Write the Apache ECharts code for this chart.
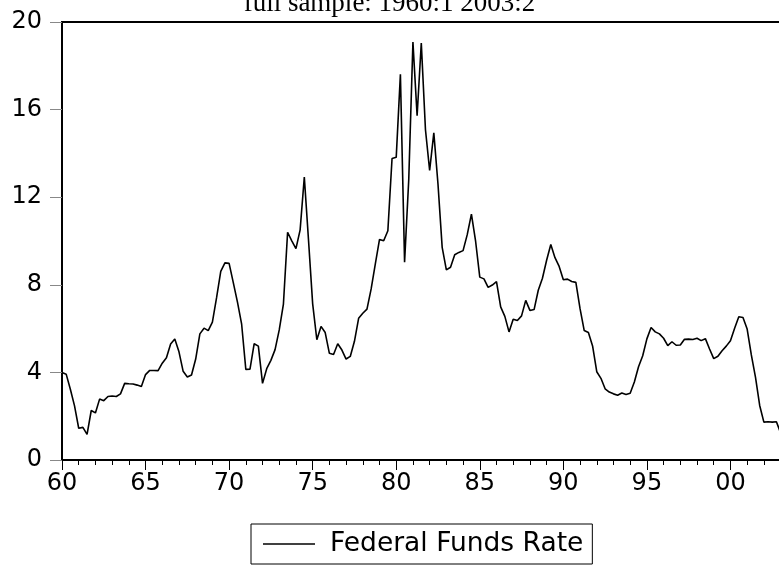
<!DOCTYPE html>
<html>
<head>
<meta charset="utf-8">
<script src="https://cdn.jsdelivr.net/npm/echarts@6/dist/echarts.min.js"></script>
<style>
  html, body { margin: 0; padding: 0; background: #fff; }
  #chart { width: 779px; height: 567px; }
</style>
</head>
<body>
<div id="chart"></div>
<script>
// Federal funds rate, quarterly, 1960:1 - 2003:2
const startYear = 1960;
const quartersPerYear = 4;
const fedFundsRate = [
  3.99, 3.92, 3.23, 2.47,   // 1960
  1.45, 1.49, 1.17, 2.26,   // 1961
  2.15, 2.78, 2.71, 2.90,   // 1962
  2.92, 2.90, 3.02, 3.50,   // 1963
  3.48, 3.47, 3.42, 3.36,   // 1964
  3.90, 4.09, 4.09, 4.08,   // 1965
  4.42, 4.67, 5.30, 5.53,   // 1966
  4.94, 4.05, 3.79, 3.88,   // 1967
  4.61, 5.76, 6.02, 5.91,   // 1968
  6.30, 7.41, 8.61, 9.00,   // 1969
  8.98, 8.10, 7.21, 6.20,   // 1970
  4.14, 4.15, 5.31, 5.20,   // 1971
  3.50, 4.17, 4.55, 5.04,   // 1972
  5.94, 7.12, 10.40, 10.01, // 1973
  9.65, 10.51, 12.92, 10.06,// 1974
  7.13, 5.49, 6.10, 5.82,   // 1975
  4.87, 4.82, 5.31, 5.02,   // 1976
  4.61, 4.73, 5.42, 6.47,   // 1977
  6.70, 6.89, 7.81, 8.96,   // 1978
  10.07, 10.01, 10.47, 13.77, // 1979
  13.82, 17.61, 9.03, 12.81,  // 1980
  19.08, 15.72, 19.04, 15.08, // 1981
  13.22, 14.94, 12.59, 9.71,  // 1982
  8.68, 8.80, 9.37, 9.48,   // 1983
  9.56, 10.29, 11.23, 9.99, // 1984
  8.35, 8.27, 7.88, 7.99,   // 1985
  8.14, 6.99, 6.56, 5.85,   // 1986
  6.43, 6.37, 6.58, 7.29,   // 1987
  6.83, 6.87, 7.75, 8.30,   // 1988
  9.12, 9.84, 9.24, 8.84,   // 1989
  8.23, 8.26, 8.15, 8.11,   // 1990
  6.91, 5.91, 5.82, 5.21,   // 1991
  4.03, 3.73, 3.25, 3.10,   // 1992
  3.02, 2.96, 3.06, 2.99,   // 1993
  3.05, 3.56, 4.26, 4.76,   // 1994
  5.53, 6.05, 5.85, 5.76,   // 1995
  5.56, 5.22, 5.40, 5.24,   // 1996
  5.25, 5.51, 5.52, 5.50,   // 1997
  5.56, 5.45, 5.54, 5.07,   // 1998
  4.63, 4.74, 4.99, 5.20,   // 1999
  5.45, 6.02, 6.54, 6.51,   // 2000
  5.98, 4.80, 3.77, 2.49,   // 2001
  1.73, 1.75, 1.73, 1.75,   // 2002
  1.24, 1.26                // 2003
];
const xTickLabels = ['60', '65', '70', '75', '80', '85', '90', '95', '00', '05'];
const yTicks = [0, 4, 8, 12, 16, 20];
const seriesName = 'Federal Funds Rate';
const titleText = 'full sample: 1960:1 2003:2';

const seriesData = fedFundsRate.map((v, i) => [startYear + i / quartersPerYear, v]);

const chart = echarts.init(document.getElementById('chart'), null, { renderer: 'canvas' });
chart.setOption({
  animation: false,
  backgroundColor: '#fff',
  title: {
    text: titleText,
    left: 'center',
    top: -10,
    padding: 0,
    textStyle: { fontFamily: 'Liberation Serif', fontSize: 27, fontWeight: 'normal', color: '#000' }
  },
  grid: {
    left: 62, top: 22, width: 752, height: 438,
    outerBoundsMode: 'none',
    containLabel: false,
    show: true, borderColor: '#000', borderWidth: 2, backgroundColor: 'transparent'
  },
  legend: {
    data: [seriesName],
    left: 251, top: 524,
    orient: 'horizontal',
    icon: 'rect',
    itemWidth: 52, itemHeight: 1.5,
    padding: [5, 9, 5, 12],
    borderColor: '#000', borderWidth: 1,
    textStyle: { fontFamily: 'DejaVu Sans', fontSize: 26.5, color: '#000', lineHeight: 30, padding: [0, 0, 0, 10] }
  },
  xAxis: {
    type: 'value',
    min: startYear, max: 2005, interval: 5,
    axisLine: { show: true, onZero: false, lineStyle: { color: '#000', width: 2 } },
    axisTick: { show: true, length: 10, lineStyle: { color: '#000', width: 1 } },
    minorTick: { show: true, splitNumber: 5, length: 5, lineStyle: { color: '#000', width: 1 } },
    splitLine: { show: false },
    minorSplitLine: { show: false },
    axisLabel: {
      margin: 12, showMaxLabel: false,
      fontFamily: 'DejaVu Sans', fontSize: 24, color: '#000',
      formatter: v => xTickLabels[Math.round((v - startYear) / 5)]
    }
  },
  yAxis: {
    type: 'value',
    min: yTicks[0], max: yTicks[yTicks.length - 1], interval: yTicks[1] - yTicks[0],
    axisLine: { show: true, lineStyle: { color: '#000', width: 2 } },
    axisTick: { show: true, length: 12, lineStyle: { color: '#888', width: 1 } },
    splitLine: { show: false },
    axisLabel: { margin: 20, fontFamily: 'DejaVu Sans', fontSize: 24, color: '#000' }
  },
  series: [{
    name: seriesName,
    type: 'line',
    data: seriesData,
    showSymbol: false,
    symbol: 'none',
    smooth: false,
    lineStyle: { color: '#000', width: 1.6 },
    itemStyle: { color: '#000' }
  }]
});
</script>
</body>
</html>
